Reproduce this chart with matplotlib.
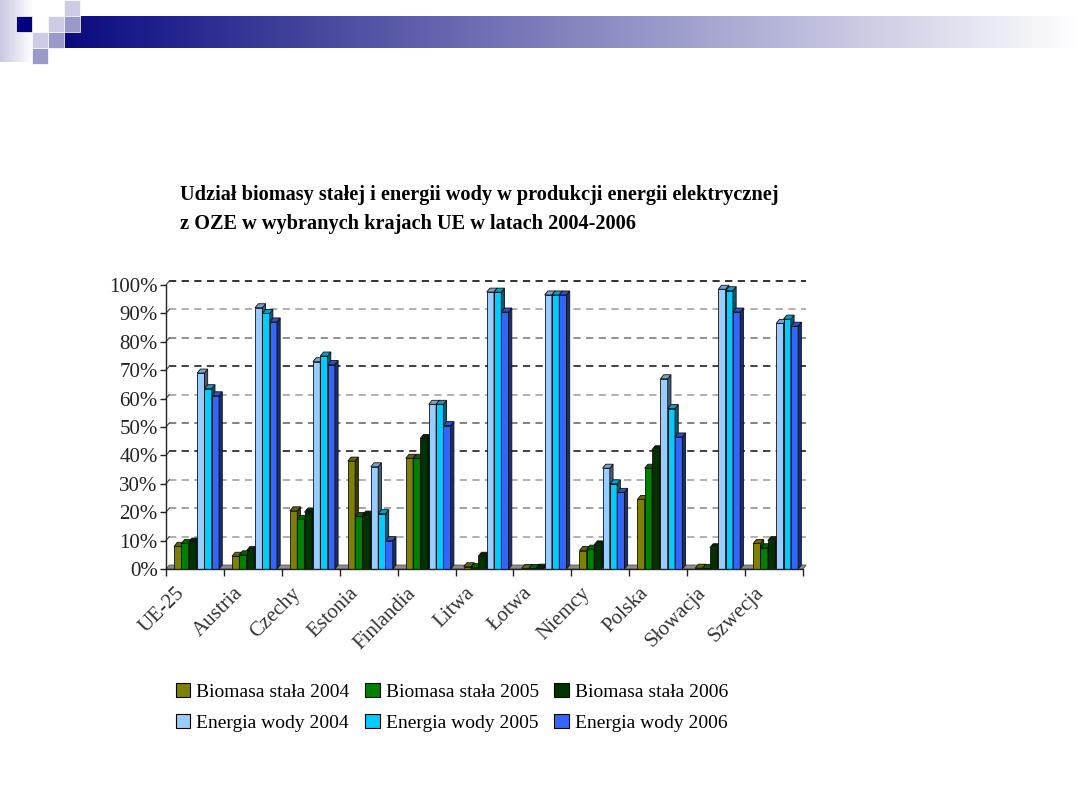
import matplotlib
matplotlib.use("Agg")
import matplotlib.pyplot as plt
import numpy as np
from matplotlib.patches import Polygon, Rectangle, Patch
from matplotlib.colors import to_rgb

plt.rcParams['font.family'] = ['Liberation Serif', 'DejaVu Serif']

# ---------------- data ----------------
categories = ["UE-25", "Austria", "Czechy", "Estonia", "Finlandia", "Litwa",
              "Łotwa", "Niemcy", "Polska", "Słowacja", "Szwecja"]
biomasa_2004 = [8, 4.5, 20.5, 38, 39, 0.8, 0.2, 6.5, 24.5, 0.3, 9]
biomasa_2005 = [9, 5, 17.5, 18.5, 39, 0.5, 0.2, 7, 35.5, 0.2, 7.5]
biomasa_2006 = [9.5, 6.5, 20, 19, 46, 4.5, 0.3, 8.5, 42, 7.5, 10]
woda_2004 = [69, 92, 73, 36, 58, 97.5, 96.5, 35.5, 67, 98.5, 86.5]
woda_2005 = [63.5, 90, 75, 19.5, 58, 97.5, 96.5, 30, 56.5, 98, 88]
woda_2006 = [61, 87, 72, 10, 50.5, 90.5, 96.5, 27, 46.5, 90.5, 85.5]
series_labels = ["Biomasa stała 2004", "Biomasa stała 2005", "Biomasa stała 2006",
                 "Energia wody 2004", "Energia wody 2005", "Energia wody 2006"]
series_colors = ["#808000", "#008000", "#003300", "#99CCFF", "#00CCFF", "#3366FF"]
y_ticks = [0, 10, 20, 30, 40, 50, 60, 70, 80, 90, 100]
y_labels = [f"{v}%" for v in y_ticks]
title = ("Udział biomasy stałej i energii wody w produkcji energii elektrycznej\n"
         "z OZE w wybranych krajach UE w latach 2004-2006")

series = [biomasa_2004, biomasa_2005, biomasa_2006, woda_2004, woda_2005, woda_2006]

W, H = 1080, 810
fig = plt.figure(figsize=(W / 100, H / 100), dpi=100)

# ---------------- slide decoration ----------------
bg = fig.add_axes([0, 0, 1, 1], zorder=-5)
bg.set_xlim(0, W)
bg.set_ylim(H, 0)
bg.axis('off')
grad_l = np.linspace(0, 1, 64)[None, :]
cols_l = np.array([200, 200, 226]) / 255.0
img_l = cols_l[None, None, :] * (1 - grad_l[..., None]) + grad_l[..., None] * 1.0
bg.imshow(img_l, extent=(0, 33, 62, 0), aspect='auto', interpolation='bilinear', zorder=1)
grad = np.linspace(0, 1, 512)[None, :]
c0 = np.array([10, 10, 128]) / 255.0
img = c0[None, None, :] * (1 - grad[..., None]) + grad[..., None] * 1.0
bg.imshow(img, extent=(64, W, 48, 16), aspect='auto', interpolation='bilinear', zorder=1)
squares = [
    (16, 16, "#000080"),
    (48, 16, "#CCCCE6"),
    (64, 0, "#CCCCE6"),
    (64, 16, "#9999CC"),
    (32, 32, "#CCCCE6"),
    (48, 32, "#9999CC"),
    (32, 48, "#9999CC"),
]
for sx, sy, sc in squares:
    bg.add_patch(Rectangle((sx, sy), 16, 16, facecolor=sc, edgecolor='white', lw=0.5, zorder=2))

fig.text(180 / W, 1 - 185 / H, title, ha='left', va='top', fontsize=14.6,
         fontweight='bold', linespacing=1.62, color='black')

# ---------------- chart ----------------
x0_px, x1_px = 166, 803
y0_px, y1_px = 569, 285
ax = fig.add_axes([x0_px / W, 1 - y0_px / H, (x1_px - x0_px) / W, (y0_px - y1_px) / H])
n = len(categories)
ax.set_xlim(0, n)
ax.set_ylim(0, 100)

dx = 0.056
dy = 1.4

def shade(c, f):
    r = np.array(to_rgb(c))
    return tuple(r * f)

grid_cols = {100: '#222222', 90: '#aaaaaa', 80: '#888888', 70: '#333333', 60: '#aaaaaa',
             50: '#777777', 40: '#333333', 30: '#aaaaaa', 20: '#999999', 10: '#aaaaaa'}
for v in y_ticks[1:]:
    ax.plot([dx, n + dx], [v + dy, v + dy], ls=(0, (4, 3)), lw=1.3,
            color=grid_cols[v], clip_on=False, zorder=1)
    ax.plot([0, dx], [v, v + dy], ls='-', lw=0.8, color='#444444', clip_on=False, zorder=1)

ax.add_patch(Polygon([(0, 0), (dx, dy), (n + dx, dy), (n, 0)], closed=True,
                     facecolor='#8c8c8c', edgecolor='#555555', lw=0.6, clip_on=False, zorder=1.5))

bw = 0.126
start = 0.14
gap = 0.02
for k, (vals, col) in enumerate(zip(series, series_colors)):
    offs = start + k * bw + (gap if k >= 3 else 0)
    xs = np.arange(n) + offs
    z = 3 + k * 0.1
    ax.bar(xs, vals, width=bw, align='edge', color=col, edgecolor='#111111',
           lw=0.6, zorder=z, clip_on=False)
    for xl, v in zip(xs, vals):
        xr = xl + bw
        top = Polygon([(xl, v), (xl + dx, v + dy), (xr + dx, v + dy), (xr, v)], closed=True,
                      facecolor=shade(col, 0.8), edgecolor='#111111', lw=0.6,
                      zorder=z, clip_on=False)
        side = Polygon([(xr, 0), (xr + dx, dy), (xr + dx, v + dy), (xr, v)], closed=True,
                       facecolor=shade(col, 0.45), edgecolor='#111111', lw=0.6,
                       zorder=z, clip_on=False)
        ax.add_patch(side)
        ax.add_patch(top)

for sp in ['top', 'right']:
    ax.spines[sp].set_visible(False)
for sp in ['left', 'bottom']:
    ax.spines[sp].set_color('#222222')
    ax.spines[sp].set_linewidth(1.0)
    ax.spines[sp].set_zorder(10)

ax.set_yticks(y_ticks)
ax.set_yticklabels(y_labels, fontsize=15, color='#222222')
ax.tick_params(axis='y', direction='out', length=4, width=1, pad=2, color='#222222')
ax.set_xticks(np.arange(n + 1))
ax.set_xticklabels([])
ax.tick_params(axis='x', direction='out', length=5, width=1, color='#222222')

for i, lab in enumerate(categories):
    ax.text(i + 0.16, -5.2, lab, rotation=45, ha='right', va='top',
            rotation_mode='anchor', fontsize=15, color='#333333', clip_on=False)

handles = [Patch(facecolor=c, edgecolor='black', lw=0.8) for c in series_colors]
order = [0, 3, 1, 4, 2, 5]
fig.legend([handles[i] for i in order], [series_labels[i] for i in order],
           ncol=3, loc='upper left', bbox_to_anchor=(172 / W, 1 - 679 / H),
           frameon=False, fontsize=14, handlelength=0.75, handleheight=0.75,
           handletextpad=0.3, columnspacing=0.8, labelspacing=0.68,
           borderpad=0.2, borderaxespad=0)

fig.savefig("out.png", dpi=100, facecolor='white')
